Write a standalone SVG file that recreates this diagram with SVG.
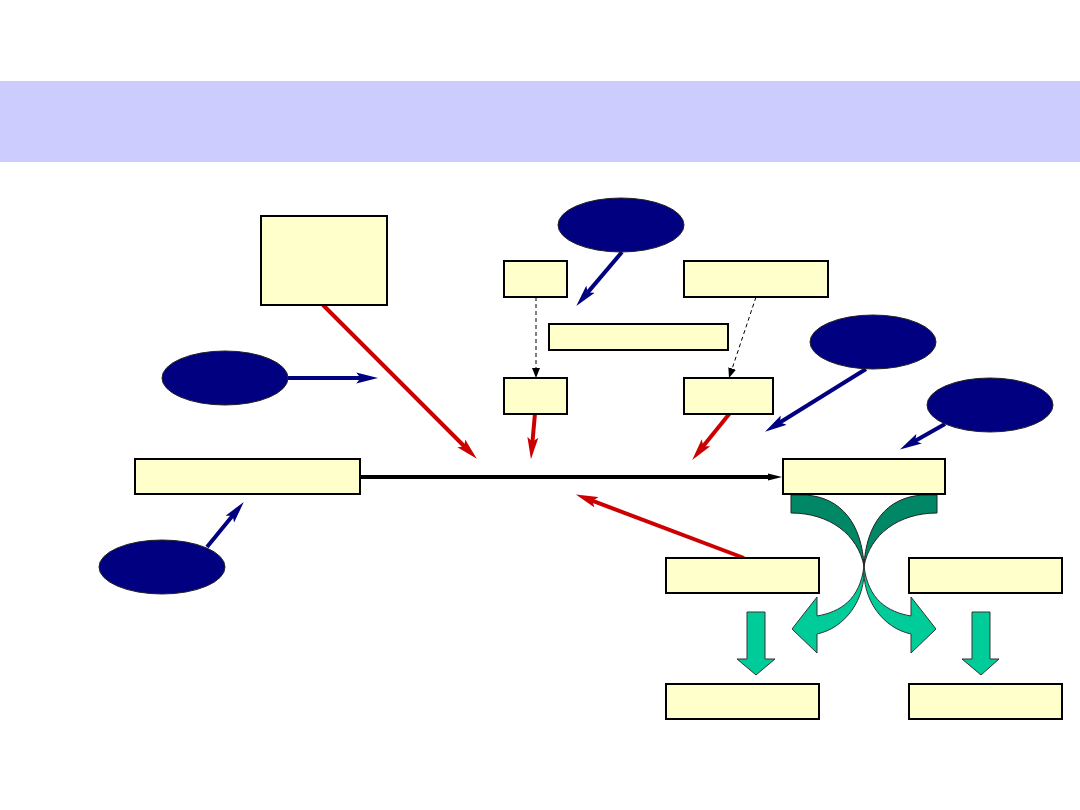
<svg xmlns="http://www.w3.org/2000/svg" width="1080" height="810" viewBox="0 0 1080 810">
<style>
.box{fill:#FFFFCC;stroke:#000;stroke-width:2}
.oval{fill:#000080;stroke:#222;stroke-width:1}
.red{stroke:#CC0000;stroke-width:4;fill:none}
.blue{stroke:#000080;stroke-width:4;fill:none}
.dash{stroke:#000;stroke-width:1;stroke-dasharray:4 3;fill:none}
.main{stroke:#000;stroke-width:4;fill:none}
.dark{fill:#008866;stroke:#222;stroke-width:1}
.light{fill:#00CC99;stroke:#333;stroke-width:1}
</style>
<defs>
<marker id="hr" markerUnits="userSpaceOnUse" markerWidth="22" markerHeight="12" viewBox="0 0 20 10" refX="8" refY="5" orient="auto"><path d="M0,0 L20,5 L0,10 L4,5 z" fill="#CC0000"/></marker>
<marker id="hb" markerUnits="userSpaceOnUse" markerWidth="22" markerHeight="12" viewBox="0 0 20 10" refX="8" refY="5" orient="auto"><path d="M0,0 L20,5 L0,10 L4,5 z" fill="#000080"/></marker>
<marker id="hk" markerUnits="userSpaceOnUse" markerWidth="14" markerHeight="8" viewBox="0 0 14 8" refX="4" refY="4" orient="auto"><path d="M0,0.5 L14,4 L0,7.5 z" fill="#000"/></marker>
<marker id="hd" markerUnits="userSpaceOnUse" markerWidth="10" markerHeight="10" viewBox="0 0 10 10" refX="3" refY="5" orient="auto"><path d="M0,1 L10,5 L0,9 z" fill="#000"/></marker>
</defs>
<rect x="0" y="0" width="1080" height="810" fill="#fff"/>
<rect id="band" x="0" y="81" width="1080" height="81" fill="#CCCCFF"/>

<g id="connectors">
<line class="main" x1="360" y1="477" x2="772" y2="477" marker-end="url(#hk)"/>
<line class="dash" x1="536" y1="297" x2="536" y2="371" marker-end="url(#hd)"/>
<line class="dash" x1="756" y1="297" x2="731.2" y2="371.4" marker-end="url(#hd)"/>
<line class="red" x1="323" y1="305" x2="467.5" y2="449.5" marker-end="url(#hr)"/>
<line class="red" x1="535" y1="413" x2="532.1" y2="446.1" marker-end="url(#hr)"/>
<line class="red" x1="730" y1="413" x2="700.5" y2="449.6" marker-end="url(#hr)"/>
<line class="red" x1="744" y1="558" x2="588.2" y2="499.2" marker-end="url(#hr)"/>
<line class="blue" x1="622" y1="252" x2="584.8" y2="295.9" marker-end="url(#hb)"/>
<line class="blue" x1="288" y1="378" x2="365" y2="378" marker-end="url(#hb)"/>
<line class="blue" x1="866" y1="369" x2="776.2" y2="424.7" marker-end="url(#hb)"/>
<line class="blue" x1="945" y1="424" x2="911.4" y2="443.1" marker-end="url(#hb)"/>
<line class="blue" x1="207" y1="547" x2="235.4" y2="512.3" marker-end="url(#hb)"/>
</g>

<g id="curved-arrows">
<path class="dark" d="M791,495 L805,495 C842,497 862,525 864,566 C858,535 830,513 791,513 Z"/>
<path class="dark" d="M937,495 L923,495 C886,497 866,525 864,566 C870,535 898,513 937,513 Z"/>
<path class="light" d="M864,566 C860,600 840,612 817,616 L817,597 L792,629 L817,653 L817,634 C845,628 866,600 864,566 Z"/>
<path class="light" d="M864,566 C868,600 888,612 911,616 L911,597 L936,629 L911,653 L911,634 C883,628 862,600 864,566 Z"/>
<path class="light" d="M747,612 L765,612 L765,659 L775,659 L756,675 L737,659 L747,659 Z"/>
<path class="light" d="M972,612 L990,612 L990,659 L999,659 L981,675 L962,659 L972,659 Z"/>
</g>

<g id="nA"><rect class="box" x="261" y="216" width="126" height="89"/></g>
<g id="nB"><rect class="box" x="504" y="261" width="63" height="36"/></g>
<g id="nC"><rect class="box" x="684" y="261" width="144" height="36"/></g>
<g id="nD"><rect class="box" x="549" y="324" width="179" height="26"/></g>
<g id="nE"><rect class="box" x="504" y="378" width="63" height="36"/></g>
<g id="nF"><rect class="box" x="684" y="378" width="89" height="36"/></g>
<g id="nG"><rect class="box" x="135" y="459" width="225" height="35"/></g>
<g id="nH"><rect class="box" x="783" y="459" width="162" height="35"/></g>
<g id="nI"><rect class="box" x="666" y="558" width="153" height="35"/></g>
<g id="nJ"><rect class="box" x="909" y="558" width="153" height="35"/></g>
<g id="nK"><rect class="box" x="666" y="684" width="153" height="35"/></g>
<g id="nL"><rect class="box" x="909" y="684" width="153" height="35"/></g>

<g id="o1"><ellipse class="oval" cx="621" cy="225" rx="63" ry="27"/></g>
<g id="o2"><ellipse class="oval" cx="225" cy="378" rx="63" ry="27"/></g>
<g id="o3"><ellipse class="oval" cx="873" cy="342" rx="63" ry="27"/></g>
<g id="o4"><ellipse class="oval" cx="990" cy="405" rx="63" ry="27"/></g>
<g id="o5"><ellipse class="oval" cx="162" cy="567" rx="63" ry="27"/></g>
</svg>
